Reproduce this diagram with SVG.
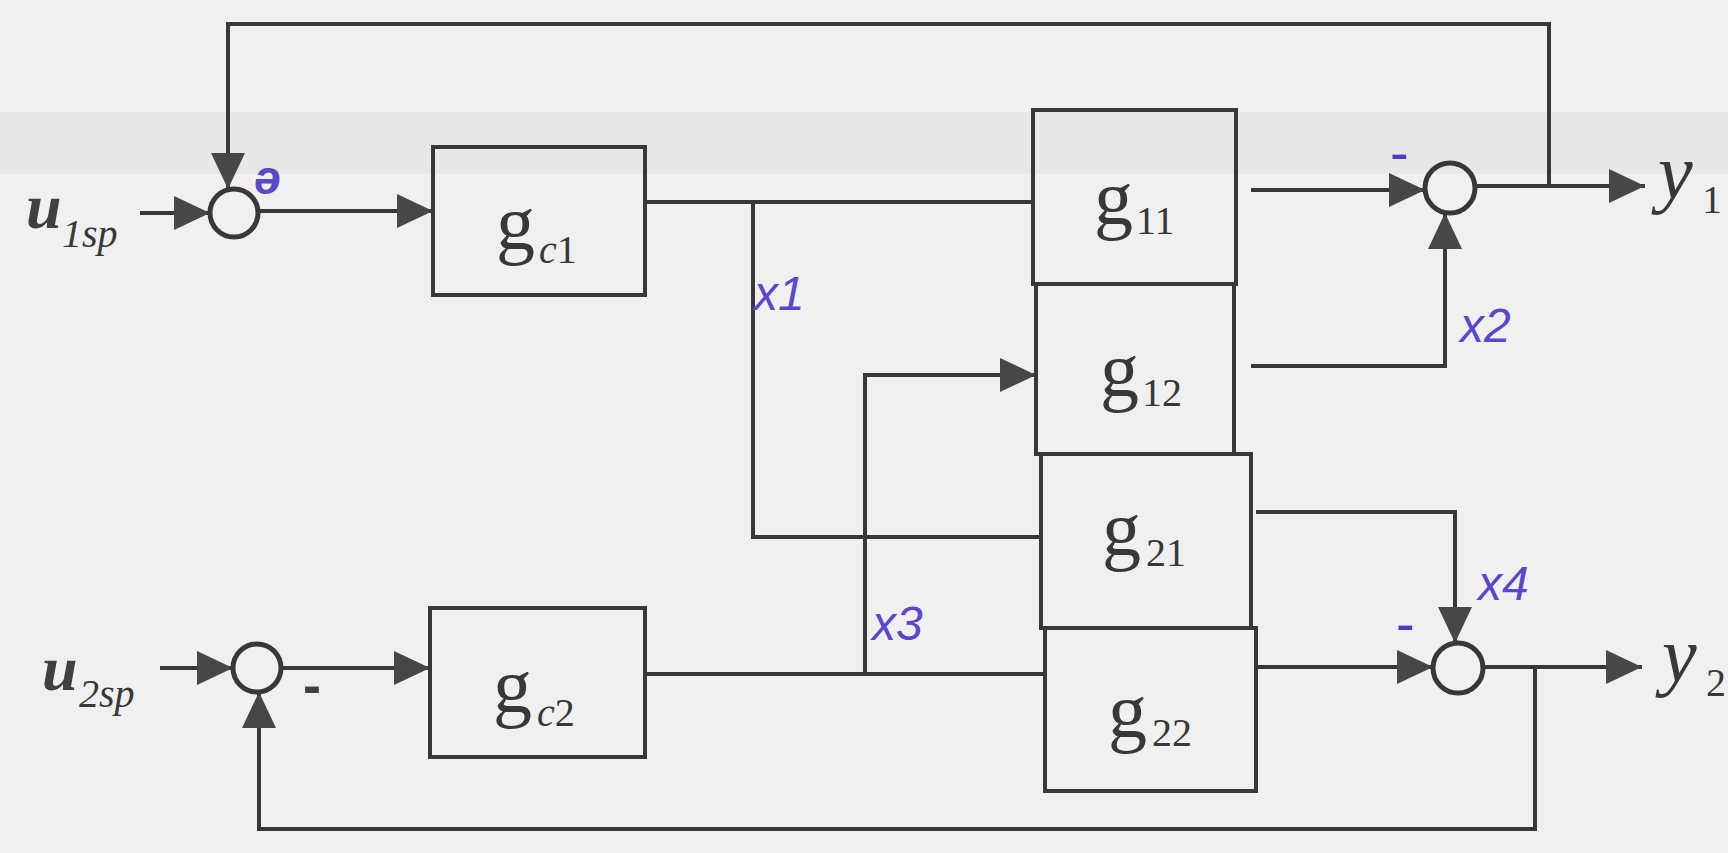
<svg xmlns="http://www.w3.org/2000/svg" width="1728" height="853" viewBox="0 0 1728 853">
<defs>
<marker id="arr" viewBox="0 0 36 34" refX="36" refY="17" markerWidth="36" markerHeight="34" markerUnits="userSpaceOnUse" orient="auto">
<path d="M0,0 L36,17 L0,34 Z" fill="#474747"/>
</marker>
<style>
.ln{fill:none;stroke:#383838;stroke-width:4}
.bx{fill:none;stroke:#383838;stroke-width:4}
.sum{fill:none;stroke:#383838;stroke-width:5}
.g{font-family:"Liberation Serif",serif;font-size:78px;fill:#383838}
.sub{font-family:"Liberation Serif",serif;font-size:40px;fill:#383838}
.u{font-family:"Liberation Serif",serif;font-size:64px;font-style:italic;font-weight:bold;fill:#404040}
.it{font-style:italic}
.hw{font-family:"Liberation Sans",sans-serif;font-style:italic;font-size:48px;fill:#5a48c8}
.dash{font-family:"Liberation Sans",sans-serif;font-size:56px;fill:#4a3cc8}
.bdash{font-family:"Liberation Sans",sans-serif;font-size:54px;font-weight:bold;fill:#404040}
</style>
</defs>
<rect width="1728" height="853" fill="#f0f0f0"/>
<rect x="0" y="112" width="1728" height="62" fill="#e3e3e3" opacity="0.6"/>

<g id="connectors">
<path class="ln" d="M1549,186 V24 H228 V189" marker-end="url(#arr)"/>
<path class="ln" d="M140,213 H210" marker-end="url(#arr)"/>
<path class="ln" d="M258,211 H433" marker-end="url(#arr)"/>
<path class="ln" d="M645,202 H1033"/>
<path class="ln" d="M753,202 V537 H1041"/>
<path class="ln" d="M645,674 H1045"/>
<path class="ln" d="M865,674 V375 H1036" marker-end="url(#arr)"/>
<path class="ln" d="M1251,190 H1425" marker-end="url(#arr)"/>
<path class="ln" d="M1251,366 H1445 V213" marker-end="url(#arr)"/>
<path class="ln" d="M1475,186 H1645" marker-end="url(#arr)"/>
<path class="ln" d="M1256,512 H1455 V643" marker-end="url(#arr)"/>
<path class="ln" d="M1258,667 H1433" marker-end="url(#arr)"/>
<path class="ln" d="M1483,667 H1642" marker-end="url(#arr)"/>
<path class="ln" d="M1535,667 V829 H259 V692" marker-end="url(#arr)"/>
<path class="ln" d="M160,668 H233" marker-end="url(#arr)"/>
<path class="ln" d="M281,668 H430" marker-end="url(#arr)"/>
</g>

<g id="sum1"><circle class="sum" cx="234" cy="213" r="24"/></g>
<g id="sum2"><circle class="sum" cx="257" cy="668" r="24"/></g>
<g id="sum3"><circle class="sum" cx="1450" cy="188" r="25"/></g>
<g id="sum4"><circle class="sum" cx="1458" cy="668" r="25"/></g>

<g id="u1sp"><text class="u" x="26" y="228">u</text><text class="sub it" x="62" y="247">1sp</text></g>
<g id="u2sp"><text class="u" x="42" y="690">u</text><text class="sub it" x="79" y="707">2sp</text></g>
<g id="y1"><text class="g it" x="1658" y="198">y</text><text class="sub" x="1702" y="213">1</text></g>
<g id="y2"><text class="g it" x="1662" y="681">y</text><text class="sub" x="1706" y="696" font-size="38">2</text></g>

<g id="gc1"><rect class="bx" x="433" y="147" width="212" height="148"/><text class="g" x="496" y="249">g</text><text class="sub" x="539" y="263"><tspan class="it">c</tspan>1</text></g>
<g id="gc2"><rect class="bx" x="430" y="608" width="215" height="149"/><text class="g" x="493" y="712">g</text><text class="sub" x="537" y="726"><tspan class="it">c</tspan>2</text></g>

<g id="g11"><rect class="bx" x="1033" y="110" width="203" height="174"/><text class="g" x="1094" y="224">g</text><text class="sub" x="1136" y="234">11</text></g>
<g id="g12"><rect class="bx" x="1036" y="284" width="198" height="170"/><text class="g" x="1100" y="396">g</text><text class="sub" x="1142" y="406">12</text></g>
<g id="g21"><rect class="bx" x="1041" y="454" width="210" height="174"/><text class="g" x="1102" y="555">g</text><text class="sub" x="1146" y="566">21</text></g>
<g id="g22"><rect class="bx" x="1045" y="628" width="211" height="163"/><text class="g" x="1108" y="737">g</text><text class="sub" x="1152" y="746">22</text></g>

<g id="labels">
<text class="hw" x="254" y="194" font-size="40" font-weight="bold">ə</text>
<text class="hw" x="754" y="310">x1</text>
<text class="hw" x="1460" y="342">x2</text>
<text class="hw" x="872" y="640">x3</text>
<text class="hw" x="1478" y="600">x4</text>
<text class="dash" x="1390" y="172">-</text>
<text class="dash" x="1396" y="643">-</text>
<text class="bdash" x="303" y="704">-</text>
</g>
</svg>
